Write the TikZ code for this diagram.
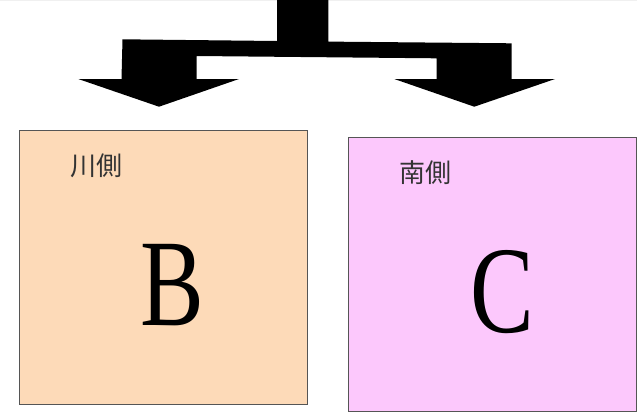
\documentclass[tikz,border=0pt]{standalone}
\usepackage{fontspec}
\setmainfont{Liberation Serif}
\newfontfamily\narrowserif[FakeStretch=0.77]{Liberation Serif}
\newfontfamily\cjk{Noto Sans CJK JP}
\definecolor{peach}{HTML}{FDDAB8}
\definecolor{pinkc}{HTML}{FCC8FC}
\definecolor{edgegray}{HTML}{555555}
\definecolor{labgray}{HTML}{333333}
\begin{document}
\begin{tikzpicture}[x=1pt,y=-1pt,
  panel/.style={draw=edgegray,line width=1.1pt,minimum width=288pt,minimum height=274.5pt,inner sep=0pt,anchor=north west},
  sidelabel/.style={font=\cjk\fontsize{26}{26}\selectfont,text=labgray,inner sep=0pt},
  bigletter/.style={font=\narrowserif\fontsize{124}{124}\selectfont,inner sep=0pt}]
\useasboundingbox (0,0) rectangle (637,416);
\fill[black!6] (0,0) rectangle (637,1.2);
% split arrow
\fill[black] (277,0) -- (328.3,0) -- (328.3,41.6) -- (511.7,43.3) -- (511.7,79)
  -- (555,79) -- (474.3,106.7) -- (394.3,79) -- (436.7,79) -- (436.7,58.3)
  -- (196.7,56) -- (196.7,79) -- (239,79) -- (159,106.7) -- (78.3,79)
  -- (121.5,79) -- (122.5,39.3) -- (277,41) -- cycle;
% panels
\node[panel,fill=peach] (B) at (18.5,129.5) {};
\node[panel,fill=pinkc] (C) at (347.5,136.7) {};
\node[sidelabel] (Blab) at (96,166) {川側};
\node[sidelabel] (Clab) at (425,172.5) {南側};
\node[bigletter] (Bl) at (172.5,285) {B};
\node[bigletter] (Cl) at (502.5,292) {C};
\end{tikzpicture}
\end{document}
